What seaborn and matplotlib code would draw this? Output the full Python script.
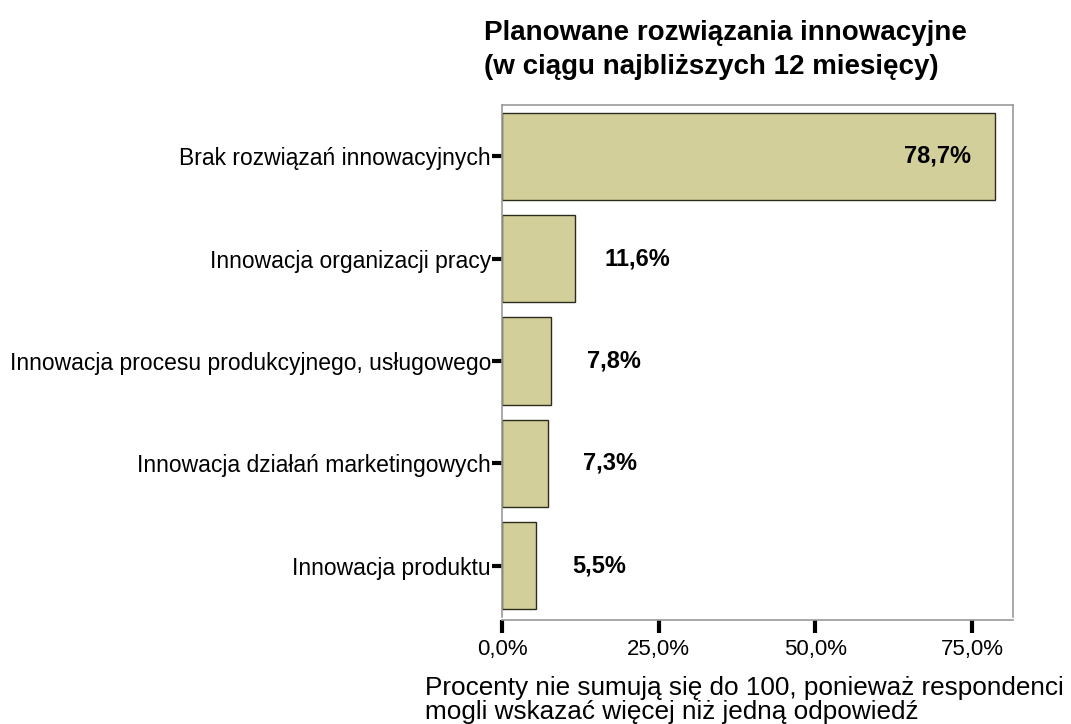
import matplotlib
matplotlib.use("Agg")
import matplotlib.pyplot as plt
import seaborn as sns
import pandas as pd
from matplotlib.ticker import FuncFormatter

categories = [
    "Brak rozwiązań innowacyjnych",
    "Innowacja organizacji pracy",
    "Innowacja procesu produkcyjnego, usługowego",
    "Innowacja działań marketingowych",
    "Innowacja produktu",
]
values = [78.7, 11.6, 7.8, 7.3, 5.5]
xticks = [0, 25, 50, 75]

sns.set_theme(style="white")
plt.rcParams["font.family"] = ["Liberation Sans", "DejaVu Sans"]
plt.rcParams["text.color"] = "black"
plt.rcParams["xtick.color"] = "black"
plt.rcParams["ytick.color"] = "black"

df = pd.DataFrame({"kategoria": categories, "procent": values})

fig = plt.figure(figsize=(10.71, 7.24), dpi=100)
ax = fig.add_axes([502 / 1071, 1 - 617 / 724, (1013 - 502) / 1071, (617 - 105) / 724])

sns.barplot(data=df, x="procent", y="kategoria", orient="h", ax=ax,
            color="#D3CF9A", edgecolor="#2b2b1e", linewidth=1.0,
            width=0.85, saturation=1)

ax.set_xlim(0, 81.5)
ax.set_ylim(4.5, -0.5)
ax.set_xticks(xticks)
ax.xaxis.set_major_formatter(FuncFormatter(lambda v, p: f"{v:.1f}%".replace(".", ",")))
ax.set_xlabel("")
ax.set_ylabel("")

for s in ["top", "right", "bottom", "left"]:
    ax.spines[s].set_color("#999999")
    ax.spines[s].set_linewidth(1.2)

ax.tick_params(axis="x", direction="out", length=9, width=3, color="black",
               labelsize=16, pad=5, bottom=True, labelcolor="black")
ax.tick_params(axis="y", direction="out", length=7, width=3, color="black",
               labelsize=16.5, pad=1, left=True, labelcolor="black")
ax.spines["bottom"].set_position(("outward", 2))

for i, v in enumerate(values):
    lab = f"{v:.1f}%".replace(".", ",")
    xpos = v - 9.3 if v > 40 else v + 10
    ax.text(xpos, i, lab, ha="center", va="center", fontsize=17,
            fontweight="bold", color="black")

fig.text(484 / 1071, 1 - 50 / 724,
         "Planowane rozwiązania innowacyjne\n(w ciągu najbliższych 12 miesięcy)",
         ha="left", va="center", fontsize=20, fontweight="bold", linespacing=1.4,
         color="black")

fig.text(425 / 1071, 1 - 700 / 724,
         "Procenty nie sumują się do 100, ponieważ respondenci\nmogli wskazać więcej niż jedną odpowiedź",
         ha="left", va="center", fontsize=18.8, linespacing=1.0, color="black")

fig.savefig("out.png", dpi=100)
